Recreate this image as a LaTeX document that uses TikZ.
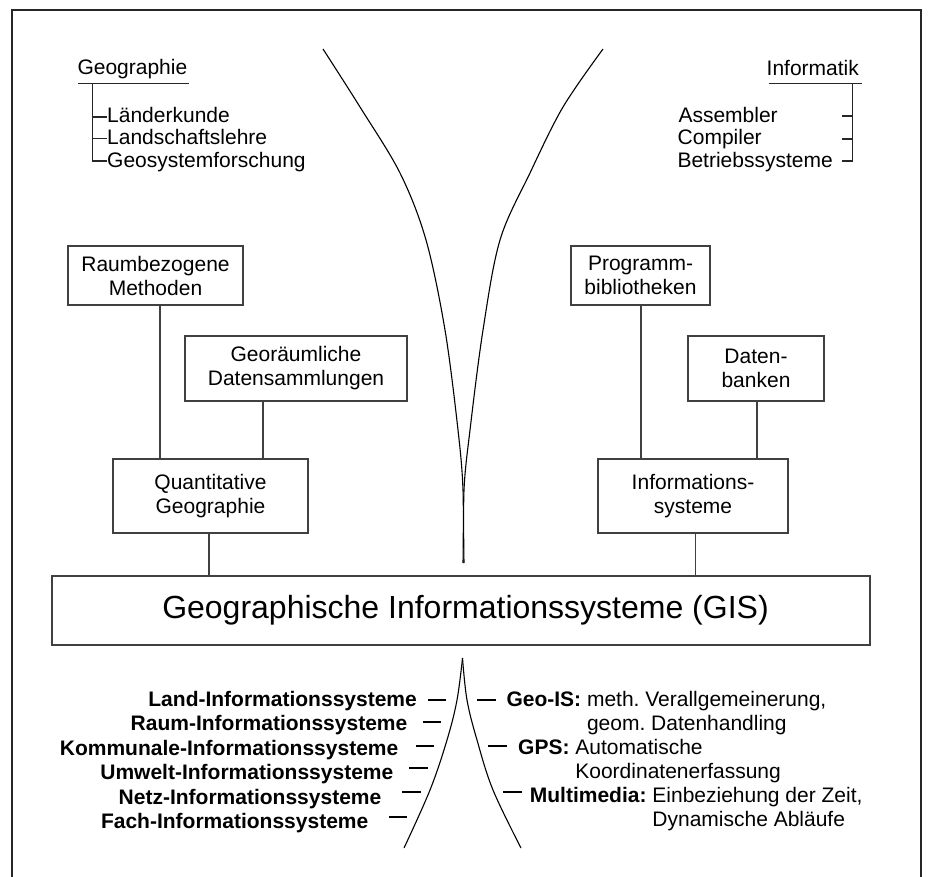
\documentclass[tikz,border=0pt]{standalone}
\usepackage{fontspec}
\setmainfont{Liberation Sans}
\newcommand\fsnorm{\fontsize{21}{24}\selectfont}
\newcommand\fsbold{\fontsize{21}{24}\selectfont\bfseries}
\newcommand\fsbig{\fontsize{32}{36}\selectfont}
\frenchspacing
\begin{document}
\begin{tikzpicture}[x=1pt,y=-1pt,
  box/.style={draw=black!75, line width=1.2pt, inner sep=0pt, align=center, font=\fsnorm, text=black},
  conn/.style={draw=black!75, line width=1.2pt},
  curve/.style={draw=black, line width=1.1pt},
  tick/.style={draw=black!85, line width=1.1pt},
  dashmark/.style={draw=black, line width=1.6pt},
  treetxt/.style={inner sep=0pt, anchor=base west, font=\fsnorm},
  blist/.style={inner sep=0pt, anchor=base east, font=\fsbold},
  rlist/.style={inner sep=0pt, anchor=base west, font=\fsnorm}
]
\useasboundingbox (0,0) rectangle (928,877);
% frame (open at the bottom)
\draw[black!85, line width=1.4pt] (12,877) -- (12,10) -- (921,10) -- (921,877);

% upper funnel curves
\draw[curve] plot[smooth,tension=0.55] coordinates {(323,49) (360,107) (400,173) (426,240) (445,330) (458,430) (463,490) (463,563)};
\draw[curve] plot[smooth,tension=0.55] coordinates {(603,49) (563,107) (530,173) (500,240) (483,330) (470,430) (464,490) (464,563)};

% lower curves
\draw[curve] plot[smooth,tension=0.6] coordinates {(462.5,658) (457,700) (447,740) (430,790) (404,848)};
\draw[curve] plot[smooth,tension=0.6] coordinates {(462.5,658) (467,700) (477,740) (493,790) (521,848)};

% Geographie tree
\node[treetxt] (geohead) at (77.3,75) {Geographie};
\node[treetxt] (laender) at (107,122.5) {Länderkunde};
\node[treetxt] (landsch) at (107,145) {Landschaftslehre};
\node[treetxt] (geosys) at (107,167.7) {Geosystemforschung};
\coordinate (gul) at (78,83.5);
\coordinate (gur) at (189.3,83.5);
\coordinate (gv) at (92.5,83.5);
\draw[tick] (gul) -- (gur);
\draw[tick] (gv) -- (92.5,161) -- (106.7,161);
\draw[tick] (92.5,117) -- (106.7,117);
\draw[tick] (92.5,138.5) -- (106.7,138.5);

% Informatik tree
\node[treetxt] (infhead) at (766.5,76) {Informatik};
\node[treetxt] (asm) at (678.3,122.5) {Assembler};
\node[treetxt] (comp) at (677.5,145) {Compiler};
\node[treetxt] (betr) at (677.3,167.7) {Betriebssysteme};
\coordinate (iul) at (769.3,83.5);
\coordinate (iur) at (861.7,83.5);
\coordinate (iv) at (852.5,83.5);
\draw[tick] (iul) -- (iur);
\draw[tick] (iv) -- (852.5,161) -- (841.7,161);
\draw[tick] (841.7,116) -- (852.5,116);
\draw[tick] (841.7,139) -- (852.5,139);

% boxes
\node[box, minimum width=175pt, minimum height=59pt] (raum) at (155.5,275.5) {Raumbezogene\\Methoden};
\node[box, minimum width=222pt, minimum height=65pt] (geor) at (296,368.5) {Georäumliche\\Datensammlungen};
\node[box, minimum width=195pt, minimum height=74pt] (quant) at (210.5,496) {Quantitative\\Geographie};
\node[box, minimum width=139pt, minimum height=59pt] (prog) at (640.5,275.5) {Programm-\\bibliotheken};
\node[box, minimum width=136pt, minimum height=65pt] (daten) at (756,368.5) {Daten-\\banken};
\node[box, minimum width=190pt, minimum height=74pt] (info) at (693,496) {Informations-\\systeme};
\node[box, minimum width=818pt, minimum height=69pt, font=\fsbig] (gis) at (461,610.5) {\hspace*{9pt}Geographische Informationssysteme (GIS)};

% connectors
\draw[conn] ([xshift=4.5pt]raum.south) -- ([xshift=4.5pt]raum.south |- quant.north);
\draw[conn] ([xshift=-33pt]geor.south) -- ([xshift=-33pt]geor.south |- quant.north);
\draw[conn] ([xshift=-1.5pt]quant.south) -- ([xshift=-1.5pt]quant.south |- gis.north);
\draw[conn] ([xshift=0.5pt]prog.south) -- ([xshift=0.5pt]prog.south |- info.north);
\draw[conn] ([xshift=1pt]daten.south) -- ([xshift=1pt]daten.south |- info.north);
\draw[conn] ([xshift=2.5pt]info.south) -- ([xshift=2.5pt]info.south |- gis.north);

% bottom left list
\node[blist] (land) at (417,706.7) {Land-Informationssysteme};
\node[blist] (raumis) at (407.5,730.7) {Raum-Informationssysteme};
\node[blist] (komm) at (398.5,755) {Kommunale-Informationssysteme};
\node[blist] (umw) at (393.5,779.3) {Umwelt-Informationssysteme};
\node[blist] (netz) at (381.5,804.3) {Netz-Informationssysteme};
\node[blist] (fach) at (368.5,828.3) {Fach-Informationssysteme};
\draw[dashmark] (428,700) -- (446,700);
\draw[dashmark] (422.7,722) -- (440.7,722);
\draw[dashmark] (416,746) -- (434,746);
\draw[dashmark] (409,768) -- (428,768);
\draw[dashmark] (402,792) -- (420.7,792);
\draw[dashmark] (389,817) -- (407,817);

% bottom right list
\node[rlist] (geois) at (506.3,706.7) {\begin{tabular}[t]{@{}l@{\ }l@{}}\textbf{Geo-IS:} & meth. Verallgemeinerung,\\ & geom. Datenhandling\end{tabular}};
\node[rlist] (gps) at (518,754.3) {\begin{tabular}[t]{@{}l@{\ }l@{}}\textbf{GPS:} & Automatische\\ & Koordinatenerfassung\end{tabular}};
\node[rlist] (multi) at (529.7,802.3) {\begin{tabular}[t]{@{}l@{\ }l@{}}\textbf{Multimedia:} & Einbeziehung der Zeit,\\ & Dynamische Abläufe\end{tabular}};
\draw[dashmark] (477.3,700) -- (496.3,700);
\draw[dashmark] (488,746) -- (506.7,746);
\draw[dashmark] (503,792) -- (521.7,792);
\end{tikzpicture}
\end{document}
